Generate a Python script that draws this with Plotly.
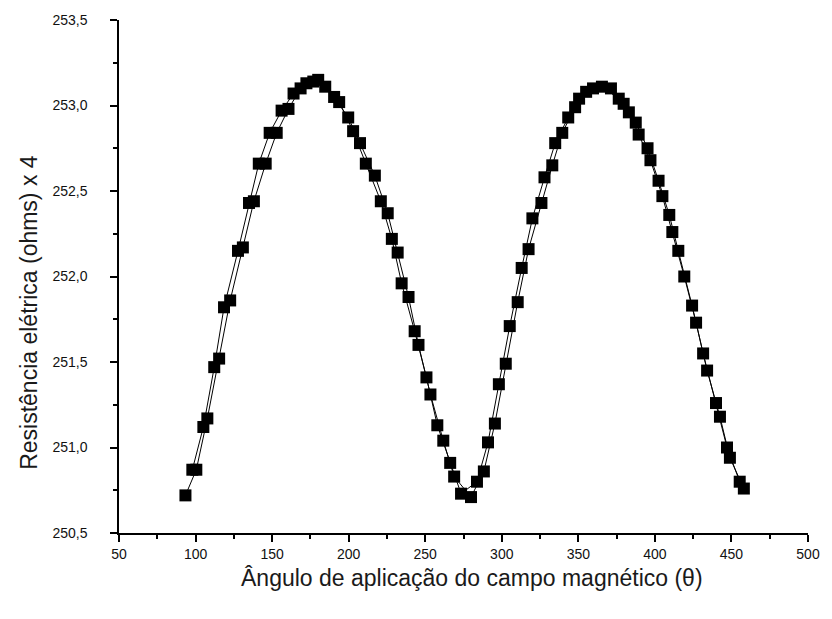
import plotly.graph_objects as go

# Angle (degrees) and resistance (ohms x 4), two interleaved sweeps
angle_a = [93.4, 100.5, 107.7, 115.4, 122.6, 130.9, 138.1, 145.8, 153.0, 160.7,
           168.6, 176.9, 184.7, 193.8, 202.9, 211.2, 221.0, 228.2, 234.6, 243.1,
           250.8, 257.9, 266.3, 273.4, 283.8, 291.0, 298.1, 305.2, 313.0, 320.0,
           327.9, 334.9, 343.4, 350.5, 359.6, 371.3, 379.6, 387.5, 395.2, 402.4,
           409.4, 415.3, 424.3, 431.5, 439.9, 447.1, 455.4]
res_a = [250.72, 250.87, 251.17, 251.52, 251.86, 252.17, 252.44, 252.66, 252.84, 252.98,
         253.10, 253.14, 253.11, 253.02, 252.85, 252.66, 252.44, 252.22, 251.96, 251.68,
         251.41, 251.13, 250.91, 250.73, 250.80, 251.03, 251.37, 251.71, 252.05, 252.34,
         252.58, 252.78, 252.93, 253.04, 253.10, 253.10, 253.01, 252.90, 252.75, 252.56,
         252.36, 252.15, 251.83, 251.55, 251.26, 251.00, 250.80]

angle_b = [97.9, 105.1, 112.2, 118.6, 127.7, 134.9, 141.3, 148.4, 156.2, 164.0,
           172.4, 180.1, 190.5, 199.7, 207.4, 217.1, 225.5, 232.0, 239.1, 245.6,
           253.4, 261.8, 268.9, 279.9, 288.3, 295.5, 302.6, 310.4, 317.5, 325.9,
           333.0, 339.5, 347.9, 355.1, 365.4, 376.4, 383.0, 389.4, 397.1, 404.9,
           411.4, 419.2, 426.9, 434.1, 442.5, 449.0, 458.1]
res_b = [250.87, 251.12, 251.47, 251.82, 252.15, 252.43, 252.66, 252.84, 252.97, 253.07,
         253.13, 253.15, 253.05, 252.93, 252.78, 252.59, 252.37, 252.14, 251.88, 251.60,
         251.31, 251.04, 250.83, 250.71, 250.86, 251.14, 251.49, 251.85, 252.16, 252.43,
         252.65, 252.84, 252.99, 253.08, 253.11, 253.04, 252.96, 252.83, 252.68, 252.47,
         252.26, 252.00, 251.73, 251.45, 251.18, 250.94, 250.76]

x_ticks = [50, 100, 150, 200, 250, 300, 350, 400, 450, 500]
y_ticks = [250.5, 251.0, 251.5, 252.0, 252.5, 253.0, 253.5]

x_title = "Ângulo de aplicação do campo magnético (θ)"
y_title = "Resistência elétrica (ohms) x 4"

fig = go.Figure()
for xs, ys in ((angle_a, res_a), (angle_b, res_b)):
    fig.add_trace(go.Scatter(
        x=xs, y=ys, mode="lines+markers",
        line=dict(color="black", width=1),
        marker=dict(symbol="square", size=12, color="black"),
        showlegend=False,
    ))

axis_font = dict(family="Liberation Sans, Arial, sans-serif", size=14, color="#111111")
title_font = dict(family="Liberation Sans, Arial, sans-serif", size=23, color="#1a1a1a")

fig.update_layout(
    width=832, height=619,
    margin=dict(l=119, r=19, t=19, b=86),
    paper_bgcolor="white", plot_bgcolor="white",
    separators=",.",
    xaxis=dict(
        range=[50, 500], tickvals=x_ticks, ticks="outside", ticklen=7, tickwidth=1.5,
        tickcolor="black", showline=True, linecolor="black", linewidth=1.5,
        showgrid=False, zeroline=False, tickfont=axis_font, ticklabelstandoff=0,
        minor=dict(dtick=25, ticks="outside", ticklen=4, tickwidth=1.5, tickcolor="black"),
    ),
    yaxis=dict(
        range=[250.5, 253.5], tickvals=y_ticks, tickformat=".1f", ticks="outside", ticklen=7,
        tickwidth=1.5, tickcolor="black", showline=True, linecolor="black", linewidth=1.5,
        showgrid=False, zeroline=False, tickfont=axis_font, ticklabelstandoff=20,
        minor=dict(dtick=0.25, ticks="outside", ticklen=4, tickwidth=1.5, tickcolor="black"),
    ),
    annotations=[
        dict(text=x_title, xref="paper", yref="paper", x=0.512, y=-0.088,
             xanchor="center", yanchor="middle", showarrow=False, font=title_font),
        dict(text=y_title, xref="paper", yref="paper", x=-0.13, y=0.43, textangle=-90,
             xanchor="center", yanchor="middle", showarrow=False, font=title_font),
    ],
)

fig.write_html("out.html")
